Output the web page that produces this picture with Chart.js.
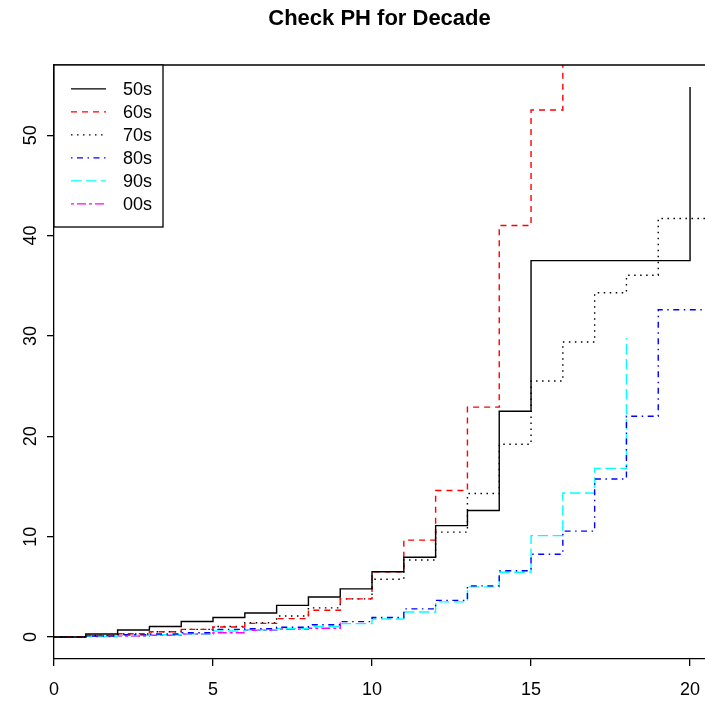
<!DOCTYPE html>
<html>
<head>
<meta charset="utf-8">
<script src="https://cdn.jsdelivr.net/npm/chart.js@4.4.1/dist/chart.umd.min.js"></script>
<style>
  html, body { margin: 0; padding: 0; background: #fff; }
  #wrap { width: 705px; height: 704px; }
</style>
</head>
<body>
<div id="wrap"><canvas id="myChart" width="705" height="704"></canvas></div>
<script>
// time points (years) and cumulative hazard per decade
var times = [0, 1, 2, 3, 4, 5, 6, 7, 8, 9, 10, 11, 12, 13, 14, 15, 16, 17, 18, 19, 20, 21];
var decadeNames = ['50s', '60s', '70s', '80s', '90s', '00s'];
var haz50s = [0, 0.3, 0.7, 1.05, 1.55, 1.95, 2.4, 3.15, 3.98, 4.8, 6.5, 7.95, 11.1, 12.6, 22.5, 37.5, 37.5, 37.5, 37.5, 37.5, 54.8];
var haz60s = [0, 0.15, 0.33, 0.53, 0.76, 1.0, 1.36, 1.83, 2.66, 3.8, 6.5, 9.65, 14.6, 22.9, 41.0, 52.5, 62];
var haz70s = [0, 0.15, 0.3, 0.53, 0.76, 1.05, 1.42, 2.1, 2.9, 3.8, 5.75, 7.67, 10.45, 14.3, 19.2, 25.5, 29.4, 34.3, 36.05, 41.7, 41.7, 41.7];
var haz80s = [0, 0.1, 0.23, 0.3, 0.42, 0.76, 0.83, 0.97, 1.22, 1.53, 1.95, 2.8, 3.65, 5.1, 6.6, 8.25, 10.55, 15.75, 22.0, 32.6, 32.6, 32.6];
var haz90s = [0, 0.08, 0.15, 0.23, 0.33, 0.6, 0.73, 0.86, 1.05, 1.33, 1.8, 2.5, 3.5, 5.0, 6.45, 10.1, 14.35, 16.8, 29.8];
var haz00s = [0, 0.05, 0.1, 0.17, 0.3, 0.43, 0.66, 0.8, 0.87, 1.45];
var xTicks = [0, 5, 10, 15, 20];
var yTicks = [0, 10, 20, 30, 40, 50];

var FONT = '"Liberation Sans", Arial, Helvetica, sans-serif';

function pts(vals) {
    return vals.map(function (v, i) { return { x: times[i], y: v }; });
}

var styles = [
    { color: '#000000', dash: [] },
    { color: '#FF0000', dash: [6, 5] },
    { color: '#000000', dash: [1.5, 4.5] },
    { color: '#0000FF', dash: [1.5, 4.5, 6, 4.5] },
    { color: '#00FFFF', dash: [10.5, 4.5] },
    { color: '#FF00FF', dash: [3, 3, 9, 3] }
];
var series = [haz50s, haz60s, haz70s, haz80s, haz90s, haz00s];

var datasets = series.map(function (s, i) {
    return {
        label: decadeNames[i],
        data: pts(s),
        borderColor: styles[i].color,
        borderDash: styles[i].dash,
        borderWidth: 1.4,
        pointRadius: 0,
        stepped: 'before',
        fill: false,
        tension: 0
    };
});

// title, box top, rotated y labels and the legend box, R style
var rPlot = {
    id: 'rPlot',
    afterDraw: function (chart) {
        var c = chart.ctx, a = chart.chartArea, ys = chart.scales.y;
        c.save();
        c.fillStyle = '#000';
        c.font = 'bold 22px ' + FONT;
        c.textAlign = 'center';
        c.textBaseline = 'middle';
        c.fillText('Check PH for Decade', (a.left + a.right) / 2, 19);

        c.strokeStyle = '#000';
        c.lineWidth = 1.3;
        c.beginPath();
        c.moveTo(a.left, a.top);
        c.lineTo(a.right, a.top);
        c.stroke();

        c.font = '18px ' + FONT;
        yTicks.forEach(function (v) {
            c.save();
            c.translate(31, ys.getPixelForValue(v));
            c.rotate(-Math.PI / 2);
            c.fillText(String(v), 0, 0);
            c.restore();
        });

        // legend
        c.fillStyle = '#fff';
        c.fillRect(a.left, a.top, 109, 162);
        c.strokeRect(a.left, a.top, 109, 162);
        c.textAlign = 'left';
        chart.data.datasets.forEach(function (ds, i) {
            var y = a.top + 23.8 + i * 23;
            c.strokeStyle = ds.borderColor;
            c.setLineDash(ds.borderDash);
            c.beginPath();
            c.moveTo(a.left + 17, y);
            c.lineTo(a.left + 52, y);
            c.stroke();
            c.setLineDash([]);
            c.fillStyle = '#000';
            c.fillText(ds.label, a.left + 69, y + 1);
        });
        c.restore();
    }
};

var ctx = document.getElementById('myChart').getContext('2d');
var myChart = new Chart(ctx, {
    type: 'line',
    data: { datasets: datasets },
    options: {
        responsive: false,
        animation: false,
        layout: { padding: { top: 65, right: 0, left: 0, bottom: 0 } },
        plugins: {
            legend: { display: false },
            title: { display: false },
            tooltip: { enabled: false }
        },
        scales: {
            x: {
                type: 'linear',
                min: 0,
                max: 20.47,
                afterBuildTicks: function (s) { s.ticks = xTicks.map(function (v) { return { value: v }; }); },
                afterFit: function (s) { s.height = 45; s.paddingLeft = 0; s.paddingRight = 0; },
                grid: { display: true, drawOnChartArea: false, drawTicks: true, tickLength: 7, color: '#000', lineWidth: 1.3 },
                border: { display: true, color: '#000', width: 1.3 },
                ticks: { color: '#000', font: { size: 18, family: FONT }, padding: 13, maxRotation: 0 }
            },
            y: {
                type: 'linear',
                min: -2.19,
                max: 56.99,
                afterBuildTicks: function (s) { s.ticks = yTicks.map(function (v) { return { value: v }; }); },
                afterFit: function (s) { s.width = 54; },
                grid: { display: true, drawOnChartArea: false, drawTicks: true, tickLength: 7, color: '#000', lineWidth: 1.3 },
                border: { display: true, color: '#000', width: 1.3 },
                ticks: { display: false }
            }
        }
    },
    plugins: [rPlot]
});
</script>
</body>
</html>
